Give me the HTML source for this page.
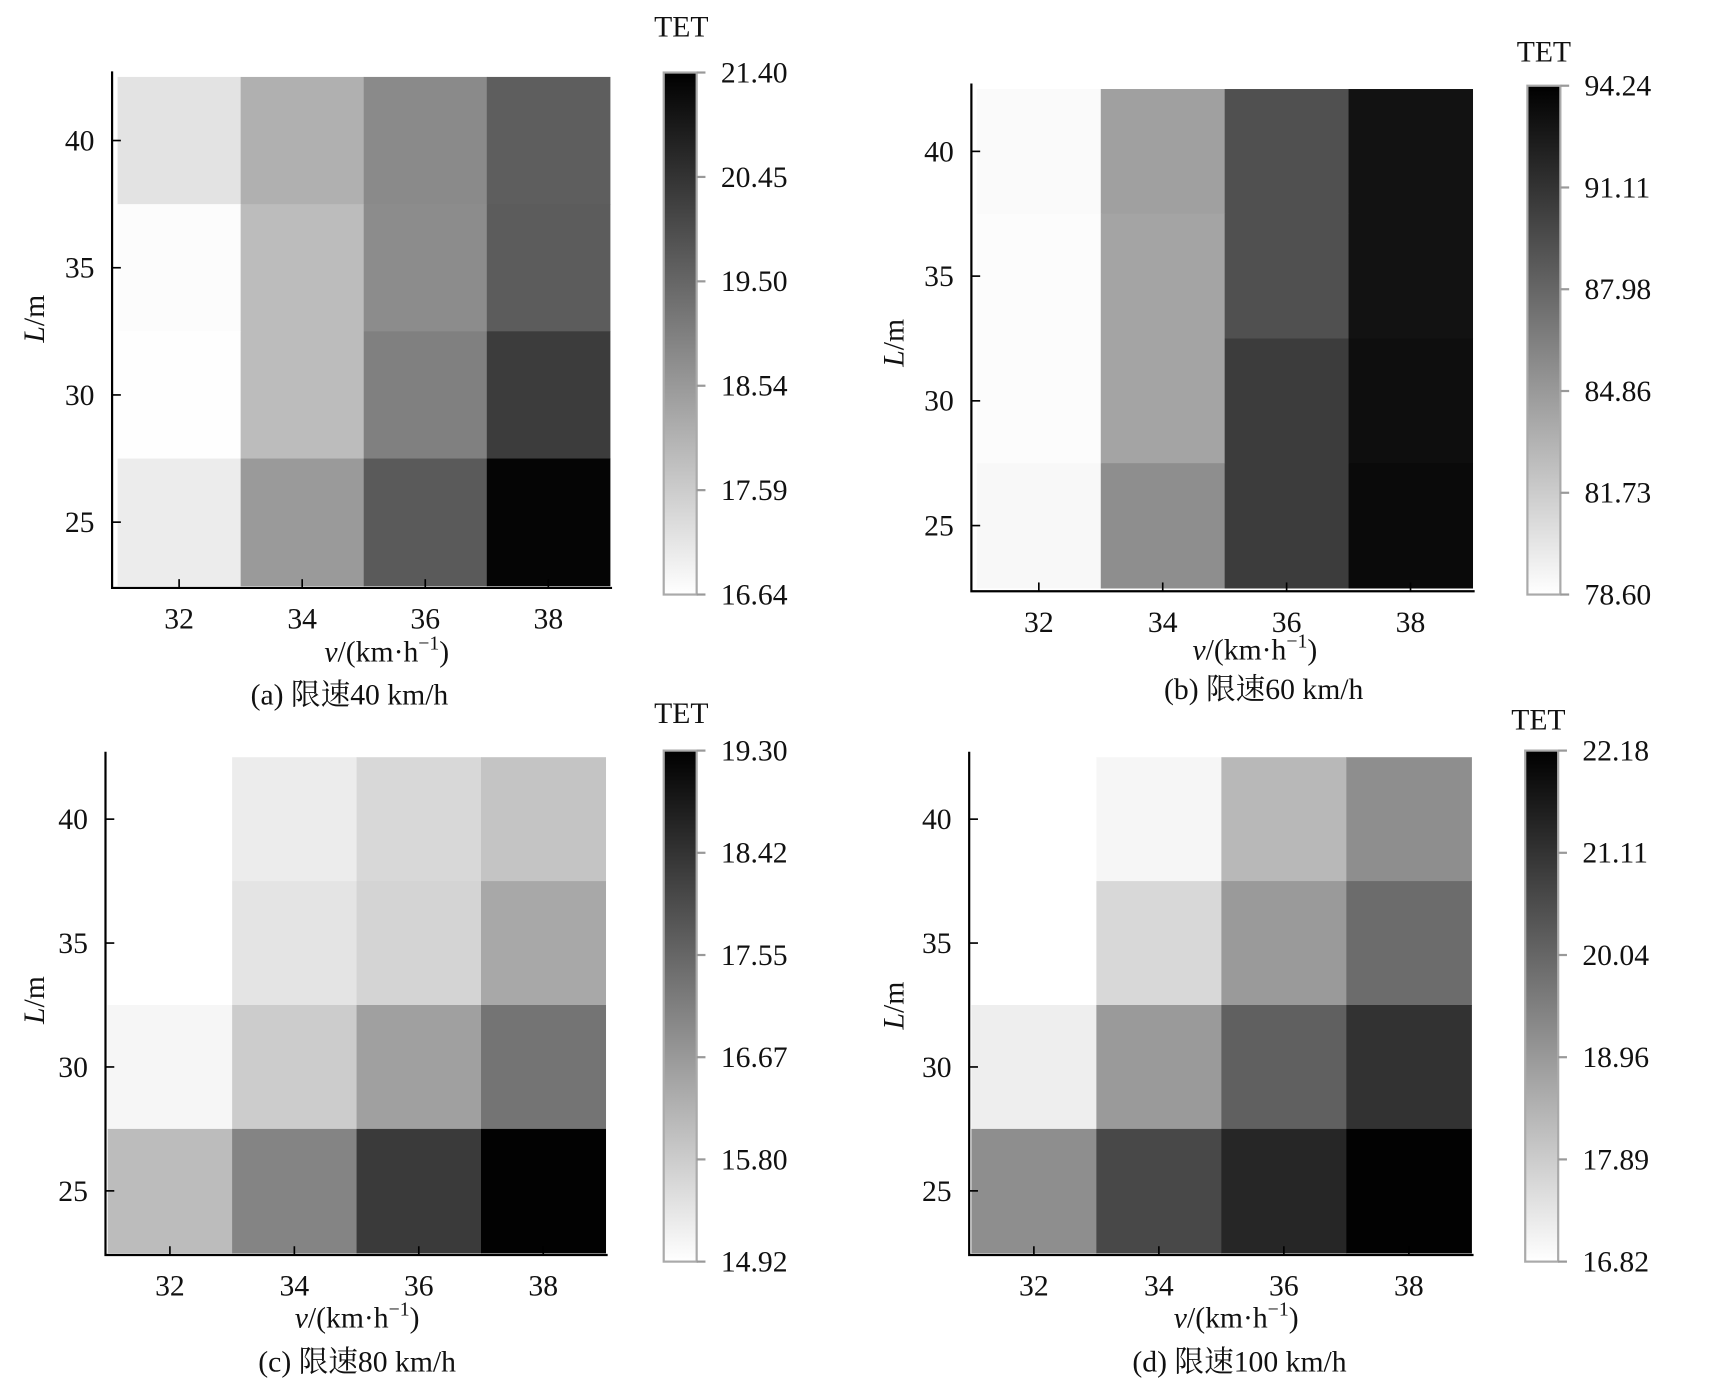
<!DOCTYPE html>
<html><head><meta charset="utf-8"><style>
html,body{margin:0;padding:0;background:#fff;width:1723px;height:1388px;overflow:hidden}
svg text{font-family:"Liberation Serif","Noto Serif CJK SC","Noto Sans CJK SC",serif;fill:#111}
</style></head><body>
<svg id="fig" width="1723" height="1388" viewBox="0 0 1568 1263" preserveAspectRatio="none" xmlns="http://www.w3.org/2000/svg">
<defs><linearGradient id="cbg" x1="0" y1="1" x2="0" y2="0"><stop offset="0" stop-color="#fff"/><stop offset="1" stop-color="#000"/></linearGradient></defs>
</svg>
<script>
const speeds=[32,34,36,38];
const lengths=[40,35,30,25];
const xTicks=[32,34,36,38];
const yTicks=[40,35,30,25];
const aMin=16.64, aMax=21.40;
const aValues=[[17.16,18.11,18.82,19.65],[16.70,17.89,18.79,19.68],[16.66,17.89,19.01,20.28],[16.99,18.53,19.72,21.31]];
const aCbLabels=["16.64","17.59","18.54","19.50","20.45","21.40"];
const bMin=78.60, bMax=94.24;
const bValues=[[78.91,84.43,89.33,93.14],[78.78,84.18,89.33,93.14],[78.78,84.18,90.56,93.38],[79.03,85.53,90.56,93.63]];
const bCbLabels=["78.60","81.73","84.86","87.98","91.11","94.24"];
const cMin=14.92, cMax=19.30;
const cValues=[[14.92,15.25,15.59,15.93],[14.92,15.38,15.66,16.41],[15.07,15.80,16.55,17.31],[16.07,17.03,18.30,19.27]];
const cCbLabels=["14.92","15.80","16.67","17.55","18.42","19.30"];
const dMin=16.82, dMax=22.18;
const dValues=[[16.82,17.01,18.31,19.20],[16.82,17.64,18.94,19.91],[17.18,18.94,20.16,21.12],[19.20,20.67,21.38,22.14]];
const dCbLabels=["16.82","17.89","18.96","20.04","21.11","22.18"];
const captions=["(a) 限速40 km/h","(b) 限速60 km/h","(c) 限速80 km/h","(d) 限速100 km/h"];

const panels=[
 {id:'a',vals:aValues,mn:aMin,mx:aMax,cb:aCbLabels,hx0:107,hx1:555,hy0:70,hy1:533,ax:102,ab:535,at:65,ar:557,cbx:604,cby0:66,cby1:541,tet:[620,33],xl:[352,602],cap:[318,641],yl:[40,290]},
 {id:'b',vals:bValues,mn:bMin,mx:bMax,cb:bCbLabels,hx0:889,hx1:1340,hy0:81,hy1:535,ax:884,ab:538,at:76,ar:1342,cbx:1390,cby0:78,cby1:541,tet:[1405,56],xl:[1142,600],cap:[1150,636],yl:[822,312]},
 {id:'c',vals:cValues,mn:cMin,mx:cMax,cb:cCbLabels,hx0:98,hx1:551,hy0:689,hy1:1140,ax:96,ab:1142,at:684,ar:553,cbx:604,cby0:683,cby1:1148,tet:[620,658],xl:[325,1208],cap:[325,1248],yl:[40,910]},
 {id:'d',vals:dValues,mn:dMin,mx:dMax,cb:dCbLabels,hx0:884,hx1:1339,hy0:689,hy1:1140,ax:882,ab:1142,at:684,ar:1341,cbx:1388,cby0:683,cby1:1148,tet:[1400,664],xl:[1125,1208],cap:[1128,1248],yl:[822,915]}
];
const NS='http://www.w3.org/2000/svg';
const svg=document.getElementById('fig');
function mk(tag,attrs,parent,txt){const e=document.createElementNS(NS,tag);for(const k in attrs)e.setAttribute(k,attrs[k]);if(txt!==undefined)e.textContent=txt;parent.appendChild(e);return e;}
function gray(v,mn,mx){let t=(v-mn)/(mx-mn);t=Math.max(0,Math.min(1,t));const g=Math.round(255*(1-t));return `rgb(${g},${g},${g})`;}
const FS=27;
panels.forEach((p,pi)=>{
 const g=mk('g',{},svg);
 
 
 const xs=v=>p.hx0+(v-31)/8*(p.hx1-p.hx0);
 const ys=L=>p.hy1-(L-22.5)/20*(p.hy1-p.hy0);
 const cw=(p.hx1-p.hx0)/4, ch=(p.hy1-p.hy0)/4;
 lengths.forEach((L,r)=>speeds.forEach((v,c)=>{
  const cell=mk('rect',{x:xs(v)-cw/2,y:ys(L)-ch/2,width:cw+0.5,height:ch+0.5,fill:gray(p.vals[r][c],p.mn,p.mx)},g);
  
  
 }));
 const ax=mk('path',{d:`M${p.ax},${p.at}V${p.ab}H${p.ar}`,stroke:'#000','stroke-width':2,fill:'none'},g);
 
 
 xTicks.forEach(t=>{
  mk('line',{x1:xs(t),x2:xs(t),y1:p.ab,y2:p.ab-8,stroke:'#000','stroke-width':1.5},g);
  const tl=mk('text',{x:xs(t),y:p.ab+37,'font-size':FS,'text-anchor':'middle'},g,String(t));
  
  
 });
 yTicks.forEach(t=>{
  mk('line',{x1:p.ax,x2:p.ax+8,y1:ys(t),y2:ys(t),stroke:'#000','stroke-width':1.5},g);
  const tl=mk('text',{x:p.ax-16,y:ys(t)+9,'font-size':FS,'text-anchor':'end'},g,String(t));
  
  
 });
 const xl=mk('text',{x:p.xl[0],y:p.xl[1],'font-size':FS,'text-anchor':'middle'},g);
 
 
 mk('tspan',{'font-style':'italic'},xl,'v');
 mk('tspan',{},xl,'/(km·h');
 mk('tspan',{dy:-11,'font-size':18},xl,'−1');
 mk('tspan',{dy:11},xl,')');
 const yl=mk('text',{x:0,y:0,'font-size':FS,'text-anchor':'middle',transform:`translate(${p.yl[0]},${p.yl[1]}) rotate(-90)`},g);
 
 
 mk('tspan',{'font-style':'italic'},yl,'L');
 mk('tspan',{},yl,'/m');
 const cap=mk('text',{x:p.cap[0],y:p.cap[1],'font-size':FS,'text-anchor':'middle'},g,captions[pi]);
 
 
 const cb=mk('rect',{x:p.cbx,y:p.cby0,width:30,height:p.cby1-p.cby0,fill:'url(#cbg)',stroke:'#aaa','stroke-width':2},g);
 
 
 const tt=mk('text',{x:p.tet[0],y:p.tet[1],'font-size':FS,'text-anchor':'middle'},g,'TET');
 
 
 p.cb.forEach((lab,i)=>{
  const y=p.cby1-i*(p.cby1-p.cby0)/5;
  mk('line',{x1:p.cbx+30,x2:p.cbx+38,y1:y,y2:y,stroke:'#999','stroke-width':2},g);
  const t=mk('text',{x:p.cbx+52,y:y+9,'font-size':FS},g,lab);
  
  
 });
});
</script>
</body></html>
